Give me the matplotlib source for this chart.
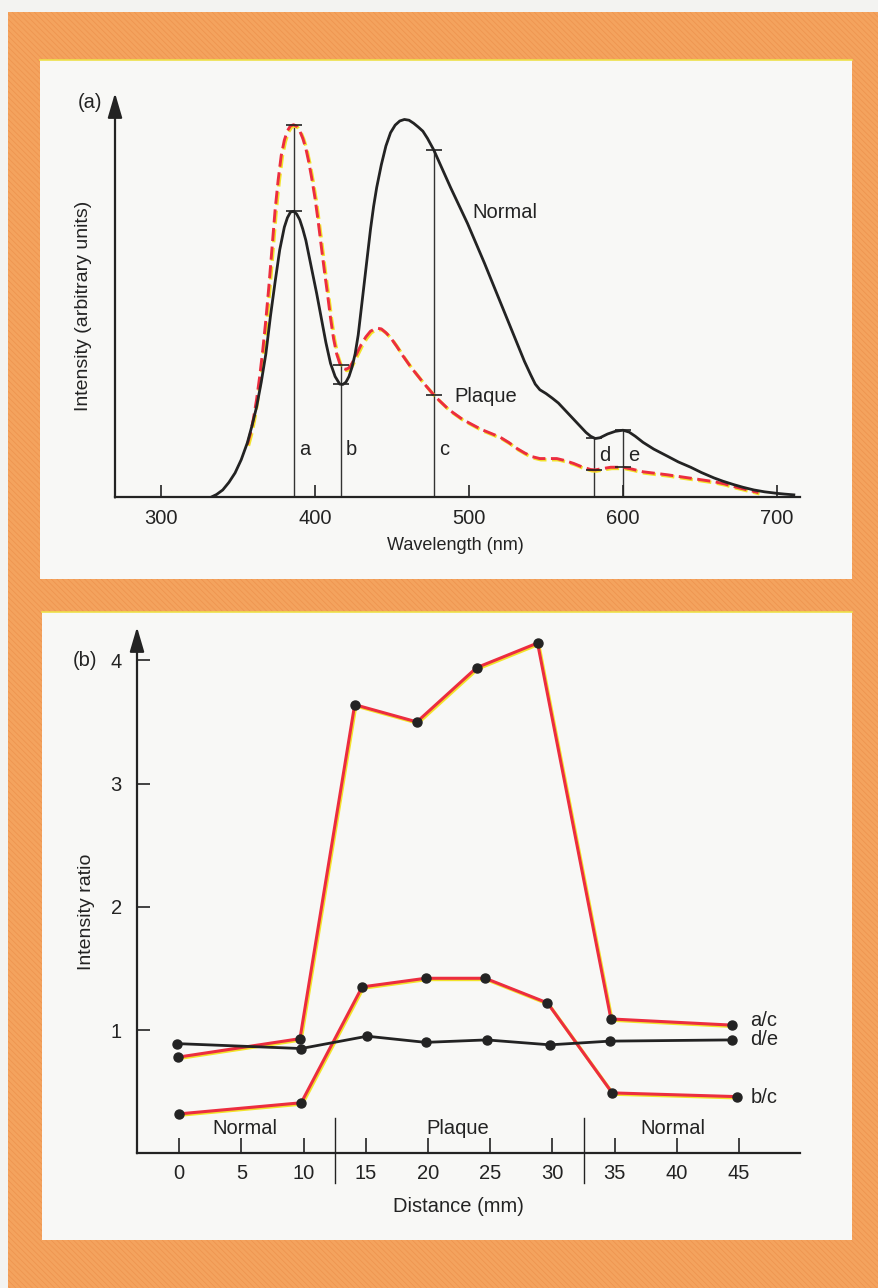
import numpy as np
import matplotlib.pyplot as plt
import matplotlib.patches as mpatches
import matplotlib.patheffects as pe

plt.rcParams['font.family'] = ['Liberation Sans', 'DejaVu Sans']
plt.rcParams['hatch.linewidth'] = 0.6

W, H = 879, 1288
INK = '#232323'
RED = '#EC2D3F'
YEL = '#F2E32A'

# ===================== DATA (a) spectra =====================
wl_normal = [332, 336, 340, 344, 348, 352, 356, 359, 362, 365, 368, 371, 374, 377, 380,
             382, 384, 386, 388, 390, 392, 394, 396, 398, 401, 404, 407, 410, 413, 416,
             418, 420, 422, 424, 426, 428, 430, 432, 434, 436, 438, 440, 443, 446, 449,
             452, 455, 458, 461, 464, 467, 470, 473, 477, 488, 499, 510, 520, 530, 536,
             540, 543, 546, 550, 554, 558, 564, 570, 576, 579, 582, 585, 590, 595, 600,
             604, 608, 613, 620, 629, 636, 644, 651, 659, 665, 672, 678, 685, 692, 700,
             705, 711]
int_normal = [0, 0.8, 2, 4, 6.5, 10, 14.5, 19, 24, 30.5, 38, 48, 57, 65.5, 71.5,
              74, 75.5, 75.7, 75, 73.5, 71, 68, 64, 60, 54, 47.5, 41, 35.5, 32, 30,
              29.9, 30.5, 32, 34.5, 38, 43, 50, 57, 64, 71, 77, 82, 88, 93, 96.5,
              98.5, 99.6, 100, 99.8, 99, 98, 96.9, 95, 92, 82, 72.5, 62, 52, 42, 36,
              32.5, 30, 28.5, 27.5, 26.3, 25, 22.4, 19.8, 17.2, 16.2, 15.6, 15.8, 16.8, 17.5, 17.8,
              17.3, 16.2, 14.6, 12.8, 10.9, 9.4, 8, 6.6, 5.2, 4.3, 3.4, 2.7, 2.0, 1.5, 1.1,
              0.9, 0.7]

wl_plaque = [356, 358, 360, 362, 364, 366, 368, 370, 372, 374, 376, 378, 380, 382, 384,
             386, 388, 390, 392, 394, 396, 398, 400, 402, 404, 406, 408, 410, 412, 414,
             416, 418, 420, 422, 424, 427, 430, 433, 436, 440, 443, 446, 449, 453, 457,
             462, 470, 478, 487, 496, 508, 514, 520, 526, 531, 536, 541, 546, 551, 557,
             562, 568, 574, 579, 582, 586, 592, 600, 606, 613, 629, 644, 659, 666, 672,
             678, 684, 688]
int_plaque = [14, 17, 21, 26, 32, 39, 47, 56, 66, 76, 84, 90.5, 94.5, 97, 98.3,
              98.6, 98.2, 97, 95, 92.3, 88.5, 84, 79, 73, 66.5, 60, 54, 47.5, 42, 38,
              35.5, 34.2, 33.9, 34.3, 35.5, 38, 40.5, 42.5, 44, 44.8, 44.6, 43.6, 42.3, 40, 37.5,
              34.6, 30.5, 26.7, 23.2, 20.6, 18, 17, 16, 14.5, 13, 11.8, 10.8, 10.3, 10.3, 10.3,
              9.8, 9, 8, 7.4, 7.3, 7.6, 8, 8, 7.5, 6.8, 6, 5.1, 4.2, 3.6, 2.9,
              2.3, 1.7, 1.3]

mark_wl = [386, 416.5, 477, 581, 600]
mark_names = ['a', 'b', 'c', 'd', 'e']
wl_ticks = [300, 400, 500, 600, 700]

# ===================== DATA (b) ratios =====================
x_ac = [-0.1, 9.7, 14.1, 19.1, 23.9, 28.8, 34.7, 44.4]
y_ac = [0.78, 0.93, 3.64, 3.50, 3.94, 4.14, 1.09, 1.04]
x_bc = [0.0, 9.8, 14.7, 19.8, 24.6, 29.6, 34.8, 44.8]
y_bc = [0.32, 0.41, 1.35, 1.42, 1.42, 1.22, 0.49, 0.46]
x_de = [-0.2, 9.8, 15.1, 19.8, 24.7, 29.8, 34.6, 44.4]
y_de = [0.89, 0.85, 0.95, 0.90, 0.92, 0.88, 0.91, 0.92]
dist_ticks = [0, 5, 10, 15, 20, 25, 30, 35, 40, 45]
ratio_ticks = [1, 2, 3, 4]
regions = ['Normal', 'Plaque', 'Normal']


def fx(px):
    return px / W


def fy(py):
    return 1 - py / H


fig = plt.figure(figsize=(W / 100, H / 100), dpi=100, facecolor='#F3F3F1')

# orange textured frame
bg = mpatches.Rectangle((fx(8), 0), 1 - fx(8), fy(12), transform=fig.transFigure,
                        facecolor='#F4A35E', edgecolor='#EE9550', hatch='\\\\\\\\\\\\',
                        lw=0, zorder=-10)
fig.add_artist(bg)
for (x0, y0, x1, y1) in [(40, 60, 852, 579), (42, 612, 852, 1240)]:
    fig.add_artist(mpatches.Rectangle((fx(x0), fy(y1)), fx(x1 - x0), (y1 - y0) / H,
                                      transform=fig.transFigure, facecolor='#F8F8F6',
                                      edgecolor='none', zorder=-9))
    fig.add_artist(plt.Line2D([fx(x0), fx(x1)], [fy(y0), fy(y0)], transform=fig.transFigure,
                              color='#EEE04A', lw=1.2, zorder=-8))


def style_axes(ax):
    ax.patch.set_visible(False)
    for s in ['top', 'right', 'left']:
        ax.spines[s].set_visible(False)
    ax.spines['bottom'].set_color(INK)
    ax.spines['bottom'].set_linewidth(1.6)
    ax.tick_params(colors=INK, labelsize=14.5, direction='in', length=9, width=1.2)
    ax.annotate('', xy=(0, 1), xytext=(0, 0), xycoords='axes fraction',
                arrowprops=dict(arrowstyle='-|>,head_length=0.75,head_width=0.22',
                                lw=1.6, color=INK, shrinkA=0, shrinkB=0, mutation_scale=20),
                annotation_clip=False)


shadow = [pe.Stroke(offset=(0.8, -0.9), linewidth=2.4, foreground=YEL), pe.Normal()]

# -------- PANEL (a) --------
ax1 = fig.add_axes([fx(115), fy(497.5), fx(685), 404.5 / H])
style_axes(ax1)
ax1.set_xlim(270, 715)
ax1.set_ylim(0, 107)
ax1.set_yticks([])
ax1.set_xticks(wl_ticks)
ax1.tick_params(axis='x', pad=8)

ax1.plot(wl_plaque, int_plaque, color=RED, lw=2.1, dashes=[4.5, 1.9],
         path_effects=shadow, zorder=2)
ax1.plot(wl_normal, int_normal, color=INK, lw=2.0, zorder=3)

for wl, name in zip(mark_wl, mark_names):
    vn = np.interp(wl, wl_normal, int_normal)
    vp = np.interp(wl, wl_plaque, int_plaque)
    ax1.plot([wl, wl], [0, max(vn, vp)], color='#333333', lw=1.0, zorder=1)
    ax1.plot([wl, wl], [vn, vp], ls='none', marker='_', ms=11, mew=1.2, color=INK, zorder=4)
    ly = 12.8 if name in 'abc' else 11.0
    ax1.text(wl + 3.5, ly, name, fontsize=14.5, color=INK, ha='left', va='center')

ax1.text(502, 75.4, 'Normal', fontsize=14.5, color=INK, ha='left', va='center')
ax1.text(490.5, 26.6, 'Plaque', fontsize=14.5, color=INK, ha='left', va='center')
fig.text(fx(90), fy(103), '(a)', fontsize=14.5, color=INK, ha='center', va='center')
fig.text(fx(84), fy(306), 'Intensity (arbitrary units)', fontsize=14, color=INK,
         rotation=90, ha='center', va='center')
fig.text(fx(455), fy(545), 'Wavelength (nm)', fontsize=13, color=INK, ha='center', va='center')

# -------- PANEL (b) --------
ax2 = fig.add_axes([fx(137), fy(1153.3), fx(663), 526.3 / H])
style_axes(ax2)
ax2.set_xlim(-3.4, 49.9)
ax2.set_ylim(0, 4.27)
ax2.set_xticks(dist_ticks)
ax2.set_yticks(ratio_ticks)
ax2.tick_params(axis='x', pad=8, length=11)
ax2.tick_params(axis='y', pad=11, length=9)

mk = dict(ls='none', marker='o', ms=6.5, mfc=INK, mec=INK, zorder=4)
for xs, ys in [(x_ac, y_ac), (x_bc, y_bc)]:
    ax2.plot(xs, ys, color=RED, lw=2.2, path_effects=shadow, zorder=2)
    ax2.plot(xs, ys, **mk)
ax2.plot(x_de, y_de, color=INK, lw=2.0, zorder=3)
ax2.plot(x_de, y_de, **mk)

ax2.text(45.9, 1.08, 'a/c', fontsize=14.5, color=INK, ha='left', va='center')
ax2.text(45.9, 0.925, 'd/e', fontsize=14.5, color=INK, ha='left', va='center')
ax2.text(45.9, 0.455, 'b/c', fontsize=14.5, color=INK, ha='left', va='center')

for xs in [12.5, 32.5]:
    ax2.plot([xs, xs], [0.29, -0.24], color=INK, lw=1.0, clip_on=False)
for xr, name in zip([5.3, 22.4, 39.7], regions):
    ax2.text(xr, 0.205, name, fontsize=14.5, color=INK, ha='center', va='center')

fig.text(fx(85), fy(660), '(b)', fontsize=14.5, color=INK, ha='center', va='center')
fig.text(fx(87), fy(912), 'Intensity ratio', fontsize=14, color=INK,
         rotation=90, ha='center', va='center')
fig.text(fx(458), fy(1206), 'Distance (mm)', fontsize=14.5, color=INK, ha='center', va='center')

fig.savefig('out.png', dpi=100, facecolor=fig.get_facecolor())
